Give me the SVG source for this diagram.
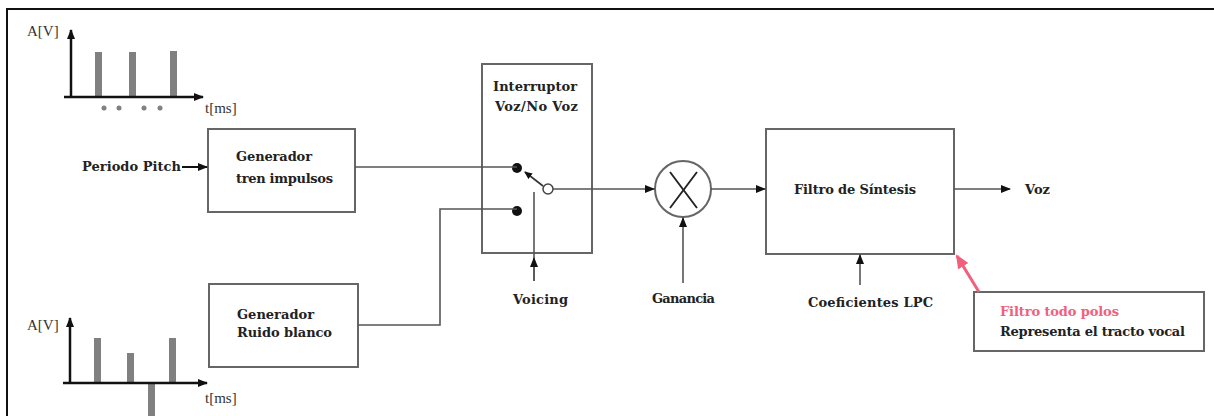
<svg xmlns="http://www.w3.org/2000/svg" width="1214" height="416" viewBox="0 0 1214 416">
<style>
.t{font-family:"DejaVu Serif","Liberation Serif",serif;font-weight:bold;font-size:13px;fill:#222}
.n{font-family:"Liberation Serif","DejaVu Serif",serif;font-size:15px;fill:#333}
.box{fill:#fff;stroke:#666;stroke-width:2}
.ln{fill:none;stroke:#555;stroke-width:1.6}
.ax{fill:none;stroke:#111;stroke-width:2.5}
.bar{fill:#808080}
</style>
<defs>
<marker id="ah" markerWidth="10" markerHeight="8" refX="9" refY="4" orient="auto" markerUnits="userSpaceOnUse">
<path d="M0,0 L10,4 L0,8 Z" fill="#111"/>
</marker>
<marker id="ahs" markerWidth="8" markerHeight="8" refX="7" refY="4" orient="auto" markerUnits="userSpaceOnUse">
<path d="M0,0.5 L8,4 L0,7.5 Z" fill="#111"/>
</marker>
<marker id="ahp" markerWidth="14" markerHeight="12" refX="12" refY="6" orient="auto" markerUnits="userSpaceOnUse">
<path d="M0,0 L14,6 L0,12 Z" fill="#f0607c"/>
</marker>
</defs>
<rect width="1214" height="416" fill="#fff"/>
<path d="M7,416 V9 H1214" fill="none" stroke="#111" stroke-width="2"/>

<g id="wave-top">
<rect class="bar" x="95" y="52" width="7" height="45"/>
<rect class="bar" x="129" y="52" width="7" height="45"/>
<rect class="bar" x="170" y="51" width="7" height="46"/>
<line class="ax" x1="71" y1="97" x2="71" y2="30" marker-end="url(#ah)"/>
<line class="ax" x1="64" y1="97" x2="203" y2="97" marker-end="url(#ah)"/>
<circle cx="104" cy="108" r="2.5" fill="#808080"/>
<circle cx="119" cy="108" r="2.5" fill="#808080"/>
<circle cx="144" cy="108" r="2.5" fill="#808080"/>
<circle cx="160" cy="108" r="2.5" fill="#808080"/>
<text x="27" y="36" class="n">A[V]</text>
<text x="205" y="113" class="n">t[ms]</text>
</g>

<g id="wave-bottom">
<rect class="bar" x="94" y="338" width="7" height="45"/>
<rect class="bar" x="127" y="353" width="7" height="30"/>
<rect class="bar" x="169" y="338" width="7" height="45"/>
<rect class="bar" x="148" y="383" width="7" height="33"/>
<line class="ax" x1="70" y1="383" x2="70" y2="318" marker-end="url(#ah)"/>
<line class="ax" x1="63" y1="383" x2="207" y2="383" marker-end="url(#ah)"/>
<text x="27" y="330" class="n">A[V]</text>
<text x="205" y="403" class="n">t[ms]</text>
</g>

<g id="periodo-pitch">
<text x="82" y="171" class="t" textLength="99">Periodo Pitch</text>
</g>

<g id="gen-tren">
<rect class="box" x="208" y="129" width="147" height="83"/>
<text x="236" y="161" class="t" textLength="76">Generador</text>
<text x="236" y="183" class="t" textLength="97">tren impulsos</text>
</g>

<g id="gen-ruido">
<rect class="box" x="209" y="284" width="149" height="83"/>
<text x="237" y="319" class="t" textLength="77">Generador</text>
<text x="237" y="337" class="t" textLength="95">Ruido blanco</text>
</g>

<g id="interruptor">
<rect class="box" x="482" y="64" width="110" height="189"/>
<text x="493" y="91" class="t" textLength="84">Interruptor</text>
<text x="495" y="111" class="t" textLength="83">Voz/No Voz</text>
<circle cx="517" cy="168" r="5" fill="#111"/>
<circle cx="517" cy="211" r="5" fill="#111"/>
<circle cx="548" cy="189" r="5" fill="#fff" stroke="#444" stroke-width="1.5"/>
<line x1="543" y1="186" x2="525" y2="172" stroke="#333" stroke-width="1.6" marker-end="url(#ahs)"/>
</g>

<g id="multiplicador">
<circle cx="683" cy="189" r="28" fill="#fff" stroke="#666" stroke-width="2"/>
<line x1="670" y1="172" x2="697" y2="208" stroke="#222" stroke-width="1.8"/>
<line x1="697" y1="172" x2="670" y2="208" stroke="#222" stroke-width="1.8"/>
</g>

<g id="filtro">
<rect class="box" x="766" y="129" width="188" height="125"/>
<text x="794" y="194" class="t" textLength="122">Filtro de Síntesis</text>
</g>

<g id="nota">
<rect class="box" x="974" y="292" width="230" height="59"/>
<text x="1000" y="316" class="t" style="fill:#f0607c" textLength="119">Filtro todo polos</text>
<text x="1000" y="336" class="t" textLength="185">Representa el tracto vocal</text>
</g>

<g id="labels">
<text x="513" y="304" class="t" textLength="55">Voicing</text>
<text x="652" y="303" class="t" textLength="63">Ganancia</text>
<text x="808" y="307" class="t" textLength="125">Coeficientes LPC</text>
<text x="1025" y="194" class="t" textLength="25">Voz</text>
</g>

<g id="connectors">
<line x1="182" y1="167" x2="207" y2="167" marker-end="url(#ah)" stroke="#111" stroke-width="2"/>
<polyline class="ln" points="355,167 517,167"/>
<polyline class="ln" points="358,325 440,325 440,209 517,209"/>
<line class="ln" x1="553" y1="189" x2="654" y2="189" marker-end="url(#ah)"/>
<line class="ln" x1="711" y1="189" x2="765" y2="189" marker-end="url(#ah)"/>
<line class="ln" x1="954" y1="189" x2="1010" y2="189" marker-end="url(#ah)"/>
<line class="ln" x1="534" y1="281" x2="534" y2="192"/>
<line class="ln" x1="534" y1="281" x2="534" y2="258" marker-end="url(#ah)"/>
<line class="ln" x1="683" y1="283" x2="683" y2="218" marker-end="url(#ah)"/>
<line class="ln" x1="860" y1="285" x2="860" y2="255" marker-end="url(#ah)"/>
<line x1="979" y1="292" x2="957" y2="256" stroke="#f0607c" stroke-width="3" marker-end="url(#ahp)"/>
</g>
</svg>
